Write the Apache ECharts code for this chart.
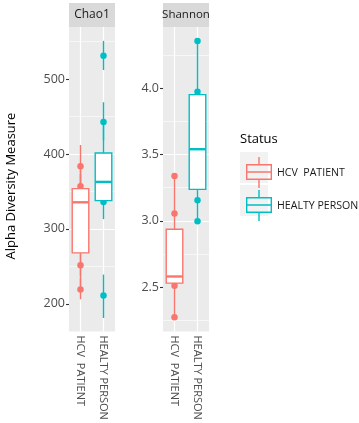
<!DOCTYPE html>
<html>
<head>
<meta charset="utf-8">
<script src="https://cdn.jsdelivr.net/npm/echarts@6/dist/echarts.min.js"></script>
<style>
    html, body { margin: 0; padding: 0; background: #fff; }
    #chart-alpha { width: 359px; height: 423px; }
</style>
</head>
<body>
<div id="chart-alpha"></div>
<script>
let categories = ["HCV  PATIENT", "HEALTY PERSON"];
let statusColors = ["#F8766D", "#00BFC4"];
let panelNames = ["Chao1", "Shannon"];

// box stats per group: [lower whisker, q1, median, q3, upper whisker]
let chaoBoxes = [
    [219, 268, 335.5, 353.7, 383.5],
    [337.7, 337.7, 362.7, 401.3, 443],
];
let chaoPoints = [
    [383.5, 357, 251.5, 219],
    [531, 442.7, 336, 211],
];
let chaoErrLow = [
    [356, 341, 237, 206],
    [512, 418, 313, 181],
];
let chaoErrHigh = [
    [412, 373, 266, 234],
    [551, 469, 361, 239],
];
let chaoTicks = [200, 300, 400, 500];

let shannonBoxes = [
    [2.273, 2.53, 2.58, 2.936, 3.338],
    [2.996, 3.237, 3.54, 3.952, 4.357],
];
let shannonPoints = [
    [3.338, 3.056, 2.51, 2.273],
    [4.357, 3.974, 3.156, 2.996],
];
let shannonTicks = [2.5, 3.0, 3.5, 4.0];

let fontName = '"Open Sans", "DejaVu Sans", sans-serif';
let myChart = echarts.init(document.getElementById("chart-alpha"));

function renderBox(params, api) {
    let x = api.value(0);
    let lo = api.coord([x, api.value(1)]);
    let q1 = api.coord([x, api.value(2)]);
    let med = api.coord([x, api.value(3)]);
    let q3 = api.coord([x, api.value(4)]);
    let hi = api.coord([x, api.value(5)]);
    let half = api.size([1, 0])[0] * 0.36;
    let color = api.visual("color");
    let line = { stroke: color, lineWidth: 1.4 };
    return {
        type: "group",
        children: [
            { type: "line", shape: { x1: hi[0], y1: hi[1], x2: q3[0], y2: q3[1] }, style: line },
            { type: "line", shape: { x1: lo[0], y1: lo[1], x2: q1[0], y2: q1[1] }, style: line },
            {
                type: "rect",
                shape: { x: q3[0] - half, y: q3[1], width: half * 2, height: q1[1] - q3[1] },
                style: { fill: "#fff", stroke: color, lineWidth: 1.4 },
            },
            {
                type: "line",
                shape: { x1: med[0] - half, y1: med[1], x2: med[0] + half, y2: med[1] },
                style: { stroke: color, lineWidth: 2.4 },
            },
        ],
    };
}

function renderErr(params, api) {
    let x = api.value(0);
    let a = api.coord([x, api.value(1)]);
    let b = api.coord([x, api.value(2)]);
    return {
        type: "line",
        shape: { x1: a[0], y1: a[1], x2: b[0], y2: b[1] },
        style: { stroke: api.visual("color"), lineWidth: 1.4 },
    };
}

let series = [];
let panels = [
    { boxes: chaoBoxes, points: chaoPoints, lo: chaoErrLow, hi: chaoErrHigh },
    { boxes: shannonBoxes, points: shannonPoints, lo: null, hi: null },
];
panels.forEach(function (panel, p) {
    categories.forEach(function (name, g) {
        series.push({
            name: name,
            type: "scatter",
            xAxisIndex: p,
            yAxisIndex: p,
            symbolSize: 6.5,
            itemStyle: { color: statusColors[g], opacity: 1 },
            data: panel.points[g].map((v) => [g, v]),
            z: 2,
            silent: true,
        });
        if (panel.lo) {
            series.push({
                name: name,
                type: "custom",
                xAxisIndex: p,
                yAxisIndex: p,
                itemStyle: { color: statusColors[g] },
                renderItem: renderErr,
                data: panel.lo[g].map((v, i) => [g, v, panel.hi[g][i]]),
                z: 2,
                silent: true,
            });
        }
        series.push({
            name: name,
            type: "custom",
            xAxisIndex: p,
            yAxisIndex: p,
            itemStyle: { color: statusColors[g] },
            renderItem: renderBox,
            data: [[g].concat(panel.boxes[g])],
            z: 3,
            silent: true,
        });
    });
});

function makeX(idx) {
    return {
        type: "category",
        gridIndex: idx,
        data: categories,
        boundaryGap: true,
        axisLine: { show: false },
        axisTick: { alignWithLabel: true, length: 3, lineStyle: { color: "#333", width: 1.1 } },
        axisLabel: { rotate: -90, color: "#4D4D4D", fontSize: 11, margin: 4, fontFamily: fontName },
        splitLine: { show: true, alignWithLabel: true, lineStyle: { color: "#fff", width: 1.2 } },
    };
}

function makeY(idx, min, max, splitNumber, ticks, fmt) {
    return {
        type: "value",
        gridIndex: idx,
        min: min,
        max: max,
        splitNumber: splitNumber,
        axisLine: { show: false },
        axisTick: { show: true, length: 3, customValues: ticks, lineStyle: { color: "#333", width: 1.1 } },
        axisLabel: { color: "#4D4D4D", fontSize: 12.5, margin: 4, customValues: ticks, formatter: fmt, fontFamily: fontName },
        splitLine: { show: true, showMinLine: false, showMaxLine: false, lineStyle: { color: "#fff", width: 1.2 } },
        minorTick: { show: false, splitNumber: 2 },
        minorSplitLine: { show: true, lineStyle: { color: "#fff", width: 0.6 } },
    };
}

let keyIcon =
    "path://M12.3 0H13.7V7.6H12.3Z M12.3 22.4H13.7V31H12.3Z " +
    "M0 7H26V23H0Z M1.4 8.4V21.6H24.6V8.4Z M1.4 14.2H24.6V15.8H1.4Z";

let option = {
    animation: false,
    textStyle: { fontFamily: fontName },
    grid: [
        { left: 69, top: 27, width: 46, height: 304.5, show: true, backgroundColor: "#EBEBEB", borderWidth: 0 },
        { left: 163, top: 27, width: 46, height: 304.5, show: true, backgroundColor: "#EBEBEB", borderWidth: 0 },
    ],
    xAxis: [makeX(0), makeX(1)],
    yAxis: [
        makeY(0, 163, 569.5, 4, chaoTicks, (v) => String(v)),
        makeY(1, 2.165, 4.462, 5, shannonTicks, (v) => Number(v).toFixed(1)),
    ],
    legend: {
        orient: "vertical",
        left: 241,
        top: 152,
        itemWidth: 26,
        itemHeight: 31,
        itemGap: 2,
        icon: keyIcon,
        data: categories,
        itemStyle: { borderWidth: 0 },
        textStyle: { color: "#1A1A1A", fontSize: 10.6, fontFamily: fontName },
        selectedMode: false,
    },
    graphic: [
        { type: "rect", shape: { x: 69, y: 3, width: 46, height: 24 }, style: { fill: "#D9D9D9" }, z: -1 },
        { type: "rect", shape: { x: 163, y: 3, width: 46, height: 24 }, style: { fill: "#D9D9D9" }, z: -1 },
        {
            type: "text", x: 92, y: 15,
            style: { text: panelNames[0], fill: "#1A1A1A", fontSize: 12, fontFamily: fontName, align: "center", verticalAlign: "middle" },
        },
        {
            type: "text", x: 186, y: 15,
            style: { text: panelNames[1], fill: "#1A1A1A", fontSize: 11.5, fontFamily: fontName, align: "center", verticalAlign: "middle" },
        },
        {
            type: "text", x: 11, y: 186, rotation: Math.PI / 2,
            style: { text: "Alpha Diversity Measure", fill: "#000", fontSize: 13, fontFamily: fontName, align: "center", verticalAlign: "middle" },
        },
        {
            type: "text", x: 240, y: 139,
            style: { text: "Status", fill: "#000", fontSize: 13, fontFamily: fontName, align: "left", verticalAlign: "middle" },
        },
        { type: "rect", shape: { x: 240, y: 152, width: 28, height: 31 }, style: { fill: "#F2F2F2" }, z: -1 },
        { type: "rect", shape: { x: 240, y: 185, width: 28, height: 31 }, style: { fill: "#F2F2F2" }, z: -1 },
    ],
    series: series,
};
option && myChart.setOption(option);
</script>
</body>
</html>
